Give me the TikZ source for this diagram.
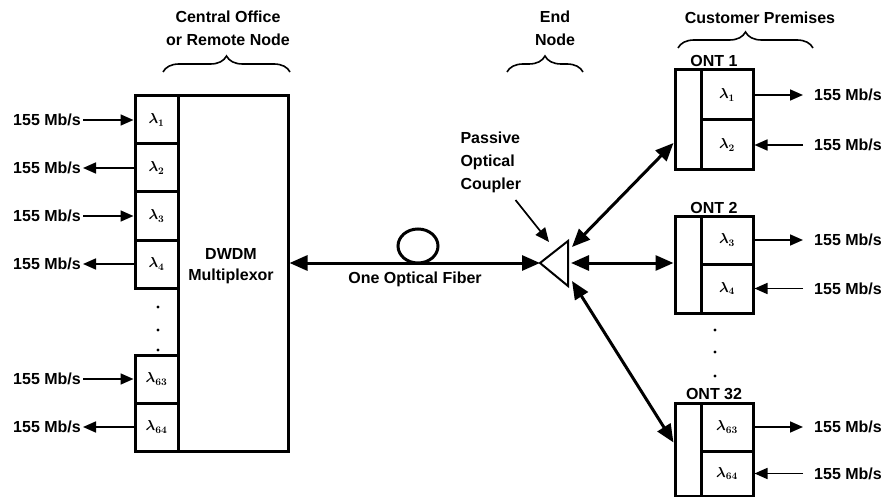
\documentclass[tikz,border=0pt]{standalone}
\usepackage{fontspec}
\setmainfont{Liberation Sans}
\usetikzlibrary{arrows.meta, positioning, calc, decorations.pathreplacing}

\begin{document}
\begin{tikzpicture}[x=1pt, y=-1pt,
  box/.style={draw, line width=3pt, inner sep=0pt},
  cell/.style={box, minimum width=43pt, minimum height=48pt, font=\fontsize{14}{14}\selectfont\boldmath},
  title/.style={font=\bfseries\fontsize{16}{23}\selectfont, align=center},
  rate/.style={font=\bfseries\fontsize{16}{18}\selectfont, inner sep=2pt},
  sig/.style={-{Triangle[length=13pt,width=11pt]}, line width=1.7pt},
  link/.style={{Triangle[length=18pt,width=15pt]}-{Triangle[length=18pt,width=15pt]}, line width=3pt},
  pointer/.style={-{Triangle[length=14pt,width=12pt]}, line width=1.7pt},
  brace/.style={decorate, decoration={brace, amplitude=16pt}, line width=1.6pt}]
  \useasboundingbox (0,0) rectangle (891,497);

  % central office
  \node[title] (co) at (228,28.5) {Central Office\\or Remote Node};
  \draw[brace] (163,72) -- (290,72);
  \node[box, minimum width=110pt, minimum height=355pt] (mux) at (233,273.5) {};
  \node[title, font=\bfseries\fontsize{16}{21}\selectfont] (mtxt) at (231,266.5) {DWDM\\Multiplexor};
  \node[cell] (c1) at (156.5,120) {$\lambda_{1}$};
  \node[cell] (c2) at (156.5,168) {$\lambda_{2}$};
  \node[cell] (c3) at (156.5,216) {$\lambda_{3}$};
  \node[cell] (c4) at (156.5,264) {$\lambda_{4}$};
  \node[cell] (c63) at (156.5,379) {$\lambda_{63}$};
  \node[cell] (c64) at (156.5,427) {$\lambda_{64}$};
  \fill (158,307) circle (1.6pt);
  \fill (158,330) circle (1.6pt);
  \fill (158,350) circle (1.6pt);
  \node[rate, anchor=east] (r1) at (83,120) {155 Mb/s};
  \node[rate, anchor=east] (r2) at (83,168) {155 Mb/s};
  \node[rate, anchor=east] (r3) at (83,216) {155 Mb/s};
  \node[rate, anchor=east] (r4) at (83,264) {155 Mb/s};
  \node[rate, anchor=east] (r63) at (83,379) {155 Mb/s};
  \node[rate, anchor=east] (r64) at (83,427) {155 Mb/s};
  \draw[sig] (r1) -- (c1);
  \draw[sig] (c2) -- (r2);
  \draw[sig] (r3) -- (c3);
  \draw[sig] (c4) -- (r4);
  \draw[sig] (r63) -- (c63);
  \draw[sig] (c64) -- (r64);

  % fiber and coupler
  \coordinate (cplL) at (540,263);
  \coordinate (cplT) at (568,241);
  \coordinate (cplD) at (568,286);
  \draw[line width=2pt, line join=miter] (cplL) -- (cplT) -- (cplD) -- cycle;
  \draw[link] (mux.east |- cplL) -- (cplL);
  \draw[line width=3pt] (418,246) ellipse (20pt and 17pt);
  \node[title] (fib) at (415,279) {One Optical Fiber};
  \node[title] (en) at (555,28.5) {End\\Node};
  \draw[brace] (507,72) -- (583,72);
  \node[title, align=left, anchor=west] (pc) at (457,162) {Passive\\Optical\\Coupler};
  \draw[pointer] ($(pc.south east)+(-9,4)$) -- ($(cplT)+(-19,1)$);

  % customer premises
  \node[title] (cp) at (760,18) {Customer Premises};
  \draw[brace] (678,48) -- (813,48);
  \node[title] (ont1) at (714,61) {ONT 1};
  \node[box, minimum width=26pt, minimum height=100pt] (s1) at (688,120) {};
  \node[cell, minimum width=52pt, minimum height=50pt] (o1) at (727,95) {$\lambda_{1}$};
  \node[cell, minimum width=52pt, minimum height=50pt] (o2) at (727,145) {$\lambda_{2}$};
  \node[title] (ont2) at (714,208) {ONT 2};
  \node[box, minimum width=26pt, minimum height=97pt] (s2) at (688,264.5) {};
  \node[cell, minimum width=52pt, minimum height=48pt] (o3) at (727,240) {$\lambda_{3}$};
  \node[cell, minimum width=52pt, minimum height=49pt] (o4) at (727,288.5) {$\lambda_{4}$};
  \fill (715,330) circle (1.6pt);
  \fill (715,352) circle (1.6pt);
  \fill (715,376) circle (1.6pt);
  \node[title] (ont32) at (714,394) {ONT 32};
  \node[box, minimum width=26pt, minimum height=93pt] (s32) at (688,449.5) {};
  \node[cell, minimum width=52pt, minimum height=48pt] (o63) at (727,427) {$\lambda_{63}$};
  \node[cell, minimum width=52pt, minimum height=45pt] (o64) at (727,473.5) {$\lambda_{64}$};
  \node[rate, anchor=west] (q1) at (812,95) {155 Mb/s};
  \node[rate, anchor=west] (q2) at (812,145) {155 Mb/s};
  \node[rate, anchor=west] (q3) at (812,240) {155 Mb/s};
  \node[rate, anchor=west] (q4) at (812,288.5) {155 Mb/s};
  \node[rate, anchor=west] (q63) at (812,427) {155 Mb/s};
  \node[rate, anchor=west] (q64) at (812,473.5) {155 Mb/s};
  \draw[sig, shorten >=9pt] (o1) -- (q1);
  \draw[sig, shorten <=9pt] (q2) -- (o2);
  \draw[sig, shorten >=9pt] (o3) -- (q3);
  \draw[sig, shorten <=9pt] (q4) -- (o4);
  \draw[sig, shorten >=9pt] (o63) -- (q63);
  \draw[sig, shorten <=9pt] (q64) -- (o64);

  % coupler to ONTs
  \coordinate (cplA) at (572,247);
  \coordinate (cplB) at (571,263);
  \coordinate (cplC) at (572,281);
  \draw[link] (cplA) -- ($(s1.west)+(0,23)$);
  \draw[link] (cplB) -- (cplB -| s2.west);
  \draw[link] (cplC) -- ($(s32.west)+(0,-7)$);
\end{tikzpicture}
\end{document}
